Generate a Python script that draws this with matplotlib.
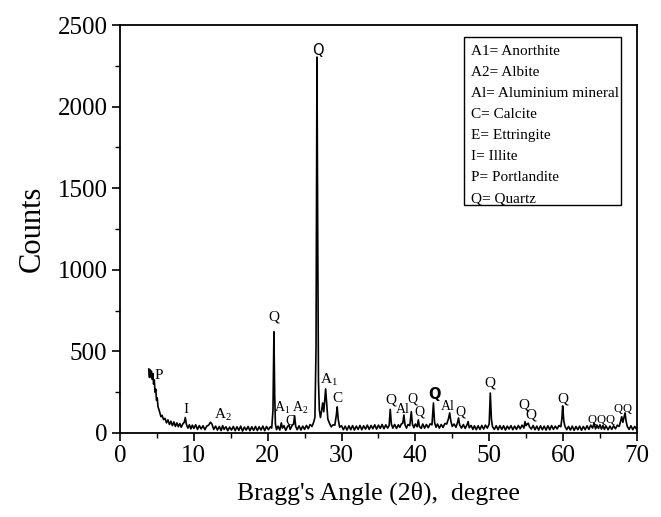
import numpy as np
import matplotlib
matplotlib.use('Agg')
import matplotlib.pyplot as plt
from matplotlib.ticker import MultipleLocator
from matplotlib.patches import Rectangle

plt.rcParams['font.family'] = ['Liberation Serif', 'DejaVu Serif']
plt.rcParams['mathtext.fontset'] = 'custom'
plt.rcParams['mathtext.rm'] = 'Liberation Serif'

# XRD pattern (2theta in degree, counts)
two_theta = [3.9, 4.0, 4.05, 4.15, 4.25, 4.35, 4.45, 4.55, 4.65, 4.75, 4.85, 4.95, 5.05, 5.15, 5.25,
             5.4, 5.55, 5.7, 5.9, 6.1, 6.3, 6.5, 6.7, 6.9, 7.1, 7.3, 7.5, 7.7, 7.9, 8.1, 8.3, 8.5,
             8.7, 8.85, 9.0, 9.2, 9.4, 9.6, 9.8, 10.0, 10.25, 10.5, 10.75, 11.0, 11.25, 11.5, 11.75,
             12.0, 12.25, 12.45, 12.7, 12.95, 13.2, 13.45, 13.7, 13.9, 14.1, 14.35, 14.6, 14.85,
             15.1, 15.35, 15.6, 15.85, 16.1, 16.35, 16.6, 16.85, 17.1, 17.35, 17.6, 17.85, 18.1,
             18.35, 18.6, 18.85, 19.1, 19.35, 19.6, 19.85, 20.1, 20.35, 20.55, 20.72, 20.85, 20.95,
             21.05, 21.2, 21.4, 21.65, 21.85, 22.0, 22.2, 22.45, 22.7, 22.9, 23.05, 23.3, 23.5,
             23.65, 23.8, 24.0, 24.25, 24.5, 24.75, 25.0, 25.25, 25.5, 25.75, 26.0, 26.2, 26.4,
             26.55, 26.68, 26.78, 26.88, 27.0, 27.15, 27.3, 27.45, 27.6, 27.75, 27.85, 28.0, 28.15,
             28.35, 28.6, 28.85, 29.1, 29.3, 29.42, 29.55, 29.75, 30.0, 30.25, 30.5, 30.75, 31.0,
             31.25, 31.5, 31.75, 32.0, 32.25, 32.5, 32.75, 33.0, 33.25, 33.5, 33.75, 34.0, 34.25,
             34.5, 34.75, 35.0, 35.25, 35.5, 35.75, 36.0, 36.25, 36.45, 36.6, 36.75, 36.95, 37.2,
             37.45, 37.7, 37.9, 38.1, 38.3, 38.45, 38.6, 38.8, 39.0, 39.25, 39.45, 39.6, 39.8,
             40.0, 40.25, 40.4, 40.55, 40.8, 41.0, 41.25, 41.5, 41.75, 42.0, 42.25, 42.45, 42.6,
             42.8, 43.0, 43.25, 43.5, 43.75, 44.0, 44.25, 44.5, 44.65, 44.8, 45.0, 45.25, 45.5,
             45.7, 45.85, 46.0, 46.25, 46.5, 46.75, 47.0, 47.15, 47.3, 47.55, 47.8, 48.0, 48.25,
             48.5, 48.75, 49.0, 49.25, 49.5, 49.75, 50.0, 50.15, 50.3, 50.45, 50.7, 50.95, 51.2,
             51.45, 51.7, 51.95, 52.2, 52.45, 52.7, 52.95, 53.2, 53.45, 53.7, 53.95, 54.2, 54.45,
             54.7, 54.85, 55.0, 55.15, 55.3, 55.45, 55.7, 55.95, 56.2, 56.45, 56.7, 56.95, 57.2,
             57.45, 57.7, 57.95, 58.2, 58.45, 58.7, 58.95, 59.2, 59.45, 59.7, 59.85, 59.95, 60.1,
             60.25, 60.5, 60.75, 61.0, 61.25, 61.5, 61.75, 62.0, 62.25, 62.5, 62.75, 63.0, 63.25,
             63.5, 63.75, 64.0, 64.2, 64.4, 64.6, 64.8, 65.0, 65.2, 65.4, 65.6, 65.8, 66.1, 66.35,
             66.6, 66.85, 67.1, 67.35, 67.6, 67.8, 67.95, 68.1, 68.25, 68.4, 68.55, 68.7, 68.95,
             69.2, 69.45, 69.7, 69.95]
counts = [392, 340, 388, 345, 380, 330, 365, 300, 325, 250, 268, 200, 215, 160, 148,
          125, 100, 108, 82, 90, 62, 80, 52, 72, 45, 68, 40, 62, 38, 58, 35, 55,
          65, 95, 52, 30, 50, 25, 48, 28, 50, 22, 45, 25, 44, 20, 42,
          48, 66, 55, 22, 42, 18, 40, 15, 45, 22, 38, 14, 36,
          18, 40, 14, 38, 16, 42, 12, 36, 18, 40, 14, 38, 16,
          40, 15, 38, 18, 42, 14, 40, 20, 38, 30, 140, 620, 240,
          55, 20, 42, 18, 62, 30, 45, 16, 40, 50, 22, 45, 55,
          105, 40, 20, 44, 18, 42, 22, 46, 26, 52, 40, 62, 95,
          520, 2304, 1200, 320, 140, 95, 135, 184, 130, 215, 270, 175, 85,
          62, 38, 50, 48, 110, 160, 85, 35, 45, 20, 42, 18, 44,
          20, 45, 18, 42, 22, 46, 20, 44, 24, 48, 22, 46, 26,
          50, 24, 48, 28, 52, 26, 50, 30, 45, 145, 55, 30, 52,
          28, 50, 35, 55, 60, 110, 50, 30, 52, 45, 131, 55, 32,
          55, 38, 80, 40, 28, 55, 30, 52, 32, 56, 50, 184, 65,
          35, 55, 30, 52, 34, 58, 55, 90, 123, 75, 40, 55, 35,
          62, 92, 50, 30, 52, 28, 50, 70, 32, 46, 22, 44, 20,
          44, 22, 46, 24, 48, 30, 55, 245, 85, 38, 22, 44, 20,
          45, 22, 44, 18, 42, 24, 45, 20, 42, 22, 46, 26, 48,
          30, 70, 45, 55, 60, 38, 24, 46, 20, 42, 18, 44, 20,
          42, 18, 44, 20, 45, 22, 42, 25, 46, 38, 90, 166, 75,
          42, 20, 40, 18, 42, 16, 40, 20, 42, 17, 40, 20, 44,
          22, 48, 30, 60, 25, 48, 28, 50, 24, 46, 22, 44, 20, 42,
          22, 44, 26, 48, 40, 72, 100, 65, 95, 123, 70, 40, 22,
          44, 20, 40, 24]

# peak labels
peak_text = ['P', 'I', r'$\mathregular{A_2}$', 'Q', r'$\mathregular{A_1}$', 'C', r'$\mathregular{A_2}$',
             'Q', r'$\mathregular{A_1}$', 'C', 'Q', 'Al', 'Q', 'Q', 'Q', 'Al', 'Q', 'Q', 'Q', 'Q',
             'Q', 'Q', 'Q', 'Q', 'Q', 'Q']
peak_x = [5.25, 8.95, 14.0, 20.85, 21.95, 23.0, 24.4, 26.76, 28.3, 29.4, 36.65, 38.35, 39.65, 40.5,
          42.56, 44.4, 46.05, 50.1, 54.7, 55.6, 60.0, 63.9, 65.1, 66.3, 67.4, 68.6]
peak_y = [355, 147, 110, 711, 155, 68, 155, 2347, 325, 212, 202, 141, 210, 128,
          233, 161, 131, 304, 172, 110, 206, 80, 80, 80, 145, 150]
sans_labels = [7, 14]
small_labels = [21, 22, 23, 24, 25]
crowded_labels = [4, 5, 6, 11, 12, 13, 15, 16]

legend_lines = ['A1= Anorthite', 'A2= Albite', 'Al= Aluminium mineral', 'C= Calcite',
                'E= Ettringite', 'I= Illite', 'P= Portlandite', 'Q= Quartz']

fig = plt.figure(figsize=(6.61, 5.17), dpi=100)
ax = fig.add_axes([0.1815, 0.1625, 0.782, 0.789])

ax.plot(two_theta, counts, color='black', linewidth=1.2)

for i in range(len(peak_text)):
    if i in sans_labels:
        ax.text(peak_x[i], peak_y[i], peak_text[i], ha='center', va='center', fontsize=10.5,
                family='DejaVu Sans', fontweight='bold' if i == 14 else 'normal')
    elif i in small_labels:
        ax.text(peak_x[i], peak_y[i], peak_text[i], ha='center', va='center', fontsize=9)
    elif i in crowded_labels:
        ax.text(peak_x[i], peak_y[i], peak_text[i], ha='center', va='center', fontsize=10)
    else:
        ax.text(peak_x[i], peak_y[i], peak_text[i], ha='center', va='center', fontsize=11)

# legend box
ax.add_patch(Rectangle((0.665, 0.559), 0.304, 0.412, transform=ax.transAxes,
                       fill=False, edgecolor='black', linewidth=1.0))
for k, line in enumerate(legend_lines):
    ax.text(0.680, 0.935 - k * 0.0515, line, transform=ax.transAxes, fontsize=11,
            ha='left', va='center')

ax.set_xlim(0, 70)
ax.set_ylim(0, 2500)
ax.xaxis.set_major_locator(MultipleLocator(10))
ax.xaxis.set_minor_locator(MultipleLocator(5))
ax.yaxis.set_major_locator(MultipleLocator(500))
ax.yaxis.set_minor_locator(MultipleLocator(250))
ax.tick_params(which='major', direction='out', length=6, width=1.2, labelsize=18, pad=3)
ax.tick_params(which='minor', direction='out', length=3.5, width=1.0)
ax.tick_params(top=False, right=False, which='both')
for s in ax.spines.values():
    s.set_linewidth(1.3)

ax.set_xlabel("Bragg's Angle (2\u03b8),  degree", fontsize=18.5, labelpad=10)
ax.set_ylabel('Counts', fontsize=22, labelpad=8)

fig.savefig('out.png', dpi=100)
